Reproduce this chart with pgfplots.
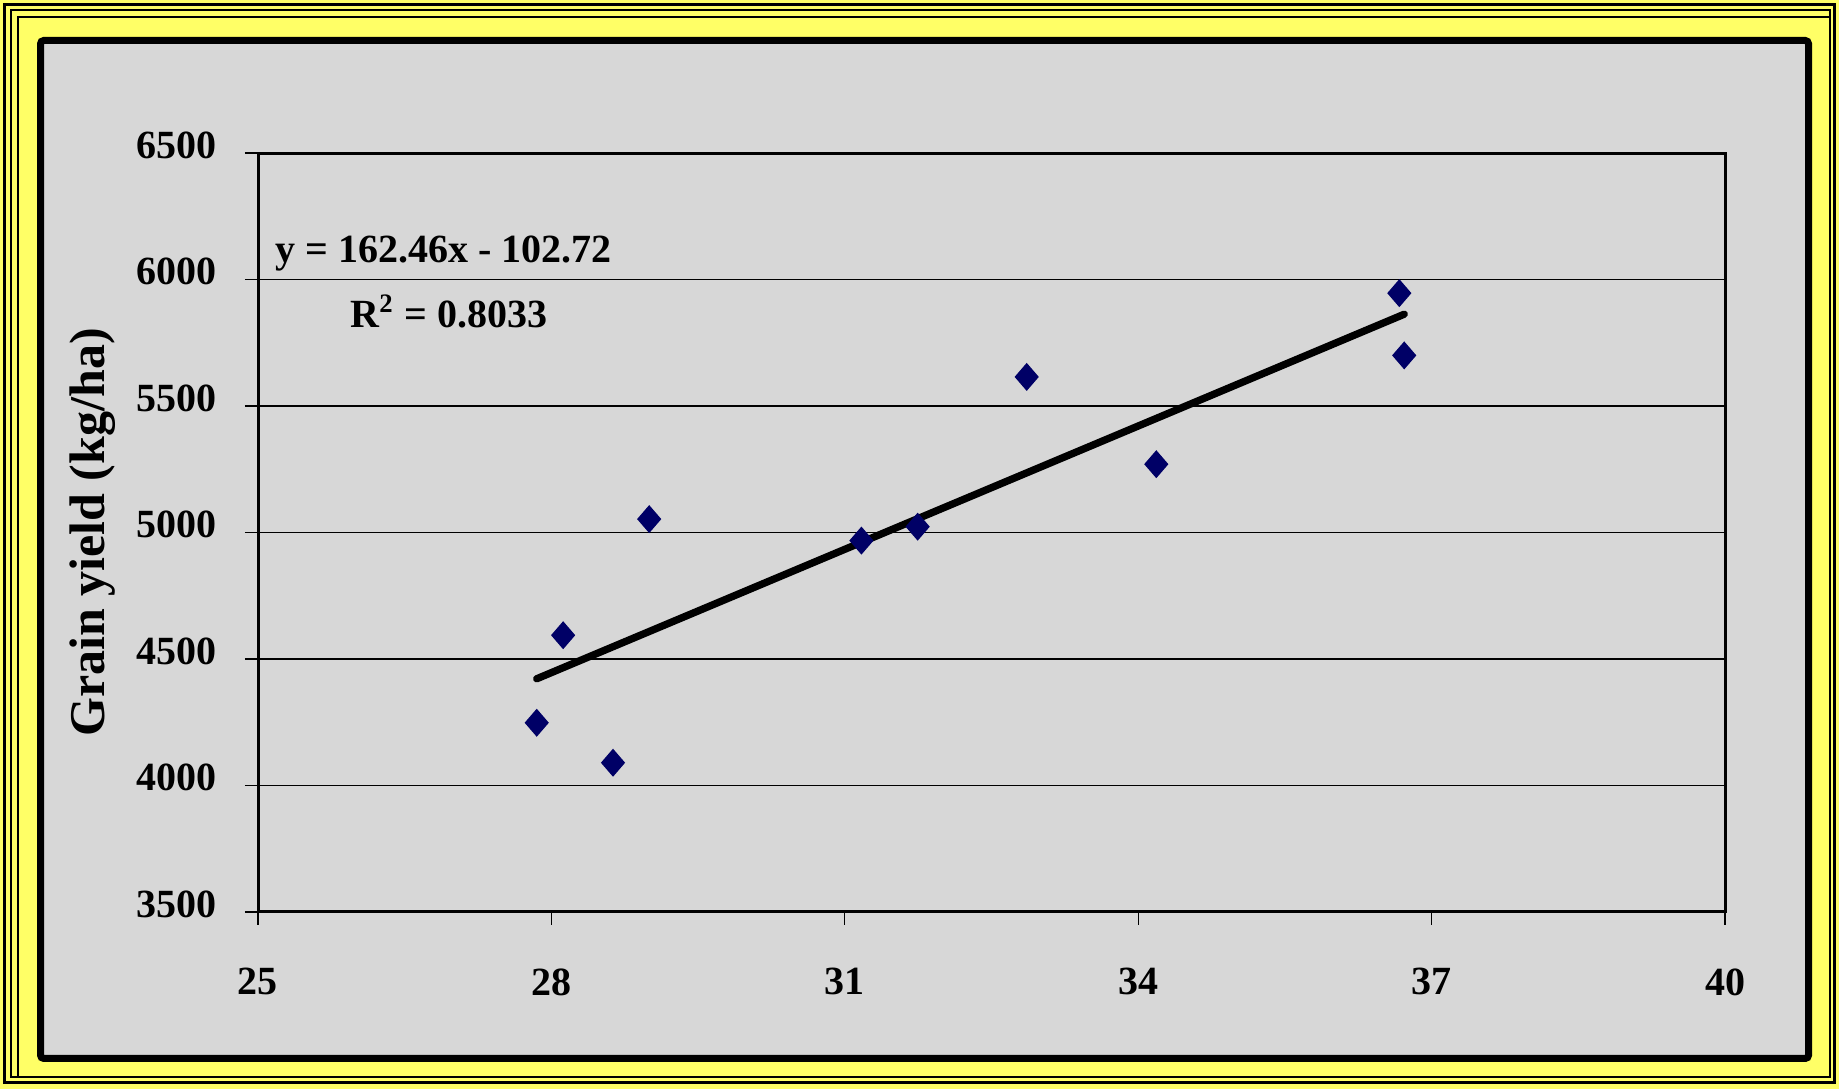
\documentclass[border=0pt]{standalone}
\usepackage{fontspec}
\setmainfont{Liberation Serif}
\usepackage{pgfplots}
\pgfplotsset{compat=1.18}
\definecolor{bgyellow}{RGB}{255,255,102}
\definecolor{panelgray}{RGB}{215,215,215}
\definecolor{navy}{RGB}{0,0,102}
\begin{document}
\begin{tikzpicture}
\begin{scope}[x=0.3pt,y=0.3pt]
\fill[bgyellow] (0,0) rectangle (1839,1089);
\draw[line width=0.9pt] (4.5,6) rectangle (1834.5,1084.5);
\draw[line width=0.6pt] (10.5,12) rectangle (1830,1078.5);
\draw[line width=0.6pt] (17.5,12) rectangle (1830,1071.5);
\draw[line width=2.1pt, fill=panelgray, rounded corners=1pt] (40.5,30.5) rectangle (1808.5,1048.5);
\end{scope}
\begin{axis}[
  at={(77.4pt,53.1pt)}, anchor=south west,
  scale only axis, width=440.1pt, height=227.7pt,
  xmin=25, xmax=40, ymin=3500, ymax=6500,
  xtick={25,28,31,34,37,40}, xticklabels={25,28,31,34,37,40},
  ytick={3500,4000,4500,5000,5500,6000,6500},
  yticklabels={3500,4000,4500,5000,5500,6000,6500},
  tick align=outside, tick pos=left,
  major tick length=3.9pt,
  every tick/.style={black, line width=0.4pt},
  axis line style={line width=0.9pt, black},
  ymajorgrids, grid style={black, line width=0.35pt},
  axis background/.style={fill=panelgray},
  xticklabel style={font=\bfseries\fontsize{12}{14}\selectfont, yshift=-9.5pt},
  yticklabel style={font=\bfseries\fontsize{12}{14}\selectfont, xshift=-5pt, yshift=2.4pt},
  ylabel={Grain yield (kg/ha)},
  every axis y label/.style={at={(axis description cs:0,0.5)}, xshift=-46pt, rotate=90, anchor=base, font=\bfseries\fontsize{15}{18}\selectfont},
]
\addplot[only marks, mark=diamond*, mark size=3.9pt, color=navy, mark options={xscale=1.15}] coordinates {
  (27.85,4248) (28.12,4594) (28.63,4090) (29.00,5053) (31.17,4968)
  (31.745,5023) (32.86,5615) (34.185,5270) (36.72,5700) (36.67,5946)
};
\addplot[black, line width=2.2pt, line cap=round] coordinates {(27.85,4421.8) (36.72,5862.8)};
\node[anchor=base west, inner sep=0pt, font=\bfseries\fontsize{12}{14}\selectfont] at (axis cs:25.17,6069) {y = 162.46x - 102.72};
\node[anchor=base west, inner sep=0pt, font=\bfseries\fontsize{12}{14}\selectfont] at (axis cs:25.94,5812) {R\textsuperscript{2} = 0.8033};
\end{axis}
\end{tikzpicture}
\end{document}
